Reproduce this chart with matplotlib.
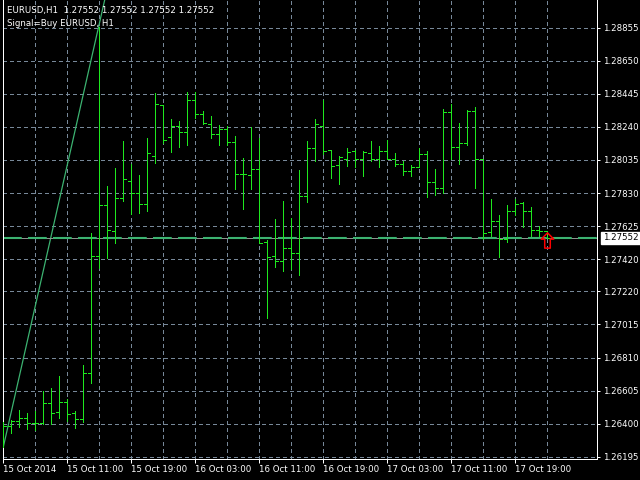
"""
EURUSD H1 bar chart, MT4 style
"""

import numpy as np
import matplotlib
matplotlib.use("Agg")
import matplotlib.pyplot as plt
from matplotlib.path import Path
import matplotlib.transforms as mtransforms


# Data: hourly bars from 15 Oct 2014 03:00
opens = [1.26299, 1.26385, 1.26415, 1.26433, 1.26402, 1.26402, 1.26526, 1.26470, 1.26532, 1.26464,
         1.26427, 1.26712, 1.27439, 1.27754, 1.27594, 1.27797, 1.27903, 1.27832, 1.27760, 1.28058,
         1.28376, 1.28175, 1.28247, 1.28206, 1.28405, 1.28318, 1.28256, 1.28194, 1.28225, 1.28144,
         1.27946, 1.27940, 1.27977, 1.27526, 1.27439, 1.27408, 1.27487, 1.27460, 1.27810, 1.28107,
         1.28247, 1.28095, 1.28002, 1.28043, 1.28089, 1.28043, 1.28076, 1.28043, 1.28090, 1.28043,
         1.28008, 1.27965, 1.27989, 1.28070, 1.27896, 1.27859, 1.28330, 1.28113, 1.28138, 1.28338,
         1.28039, 1.27586, 1.27655, 1.27543, 1.27717, 1.27766, 1.27717, 1.27599, 1.27593]
highs = [1.26412, 1.26423, 1.26485, 1.26468, 1.26478, 1.26602, 1.26623, 1.26695, 1.26553, 1.26478,
         1.26764, 1.27582, 1.28859, 1.27873, 1.27987, 1.28152, 1.28008, 1.27942, 1.28169, 1.28448,
         1.28376, 1.28287, 1.28277, 1.28454, 1.28454, 1.28338, 1.28307, 1.28252, 1.28246, 1.28184,
         1.28045, 1.28241, 1.28173, 1.27539, 1.27667, 1.27780, 1.27675, 1.27973, 1.28152, 1.28289,
         1.28407, 1.28097, 1.28059, 1.28107, 1.28097, 1.28090, 1.28152, 1.28121, 1.28159, 1.28076,
         1.28028, 1.28004, 1.28107, 1.28090, 1.27979, 1.28351, 1.28380, 1.28266, 1.28345, 1.28361,
         1.28039, 1.27793, 1.27694, 1.27756, 1.27793, 1.27772, 1.27743, 1.27627, 1.27593]
lows = [1.26257, 1.26344, 1.26381, 1.26367, 1.26361, 1.26396, 1.26396, 1.26437, 1.26418, 1.26375,
        1.26412, 1.26650, 1.27365, 1.27427, 1.27522, 1.27782, 1.27698, 1.27708, 1.27720, 1.28014,
        1.28142, 1.28086, 1.28117, 1.28128, 1.28293, 1.28256, 1.28173, 1.28128, 1.28128, 1.27857,
        1.27733, 1.27857, 1.27518, 1.27057, 1.27369, 1.27348, 1.27359, 1.27322, 1.27776, 1.28030,
        1.28070, 1.27925, 1.27888, 1.27997, 1.27993, 1.27937, 1.28030, 1.27993, 1.28041, 1.27999,
        1.27942, 1.27937, 1.27989, 1.27807, 1.27820, 1.27828, 1.28039, 1.28008, 1.28128, 1.27859,
        1.27543, 1.27565, 1.27435, 1.27528, 1.27694, 1.27621, 1.27563, 1.27563, 1.27552]
closes = [1.26385, 1.26415, 1.26433, 1.26402, 1.26402, 1.26526, 1.26464, 1.26532, 1.26460, 1.26427,
          1.26712, 1.27439, 1.27754, 1.27601, 1.27797, 1.27915, 1.27828, 1.27760, 1.28076, 1.28380,
          1.28159, 1.28247, 1.28206, 1.28405, 1.28318, 1.28262, 1.28194, 1.28225, 1.28144, 1.27946,
          1.27946, 1.27977, 1.27518, 1.27431, 1.27408, 1.27487, 1.27460, 1.27810, 1.28107, 1.28258,
          1.28090, 1.27996, 1.28051, 1.28084, 1.28043, 1.28082, 1.28043, 1.28090, 1.28043, 1.28008,
          1.27965, 1.27989, 1.28070, 1.27896, 1.27859, 1.28330, 1.28113, 1.28138, 1.28338, 1.28039,
          1.27580, 1.27655, 1.27543, 1.27717, 1.27764, 1.27717, 1.27599, 1.27593, 1.27552]

price_ticks = [1.28855, 1.28650, 1.28445, 1.28240, 1.28035, 1.27830, 1.27625,
               1.27420, 1.27220, 1.27015, 1.26810, 1.26605, 1.26400, 1.26195]
time_labels = ["15 Oct 2014", "15 Oct 11:00", "15 Oct 19:00", "16 Oct 03:00", "16 Oct 11:00",
               "16 Oct 19:00", "17 Oct 03:00", "17 Oct 11:00", "17 Oct 19:00"]
bars_per_label = 8

bid = 1.27552
signal_bar = 68
signal_price = 1.27541
trend_x = [0, 14]
trend_y = [1.26255, 1.29317]

header = "EURUSD,H1  1.27552 1.27552 1.27552 1.27552"
signal_text = "Signal=Buy EURUSD, H1"

# colours
bar_color = "#1ee81e"
grid_color = "#778899"
fs = 6.2

fig = plt.figure(figsize=(6.4, 4.8), dpi=100, facecolor="black")
ax = fig.add_axes([2.7 / 640, 21 / 480, 594 / 640, 459 / 480])
ax.set_facecolor("black")

x = np.arange(len(opens))
ax.set_xlim(-0.075, 74.18)
ax.set_ylim(1.261807, 1.290268)

# grid
ax.set_yticks(price_ticks)
ax.set_yticklabels([f"{p:.5f}" for p in price_ticks])
ax.set_xticks(np.arange(len(time_labels)) * bars_per_label)
ax.set_xticklabels(time_labels)
ax.set_xticks(np.arange(len(time_labels)) * bars_per_label + bars_per_label // 2, minor=True)
ax.grid(True, which="both", color=grid_color, ls=(0, (4, 3)), lw=0.72, antialiased=False)
ax.set_axisbelow(True)

ax.yaxis.tick_right()
ax.tick_params(axis="y", colors="white", labelsize=fs, length=2.5, width=0.72, pad=2)
ax.tick_params(axis="x", which="major", colors="white", labelsize=fs, length=2.8, width=0.72, pad=1.5)
ax.tick_params(axis="x", which="minor", length=0)
for lbl in ax.get_xticklabels():
    lbl.set_ha("left")

for side in ["left", "bottom", "right"]:
    ax.spines[side].set_color("white")
    ax.spines[side].set_linewidth(0.72)
ax.spines["top"].set_visible(False)

# trend line
ax.plot(trend_x, trend_y, color="#3cb371", lw=0.9, zorder=2)

# bid line + indicator level
ax.axhline(bid, color="#909090", lw=0.72, zorder=2)
ax.axhline(bid + 0.00002, color="#3cb371", lw=1.5, ls=(0, (9, 3)), zorder=2)

# OHLC bars
ax.vlines(x, lows, highs, color=bar_color, lw=0.72, antialiased=False, zorder=3)
ax.hlines(opens, x - 0.375, x, color=bar_color, lw=0.72, antialiased=False, zorder=3)
ax.hlines(closes, x, x + 0.375, color=bar_color, lw=0.72, antialiased=False, zorder=3)

# buy arrow
verts = [(0, 5.5), (4.5, 1), (2.0, 1), (2.0, -5.5), (-2.0, -5.5), (-2.0, 1), (-4.5, 1), (0, 5.5)]
codes = [Path.MOVETO] + [Path.LINETO] * 6 + [Path.CLOSEPOLY]
arrow = Path(verts, codes)
ax.plot(signal_bar, signal_price, marker=arrow, ms=11, mfc="none", mec="red", mew=1.1, zorder=4)

# price label on the right
trans = mtransforms.blended_transform_factory(ax.transAxes, ax.transData)
ax.annotate(f"{bid:.5f}", xy=(1, bid), xycoords=trans, xytext=(4.3, 0), textcoords="offset points",
            ha="left", va="center", color="black", fontsize=fs, annotation_clip=False,
            bbox=dict(boxstyle="square,pad=0.15", facecolor="white", edgecolor="white"))

fig.text(7 / 640, 1 - 11 / 480, header, color="white", fontsize=fs, va="center", zorder=10)
fig.text(7 / 640, 1 - 24 / 480, signal_text, color="white", fontsize=fs, va="center", zorder=10)

plt.savefig("out.png", dpi=100, facecolor="black")
